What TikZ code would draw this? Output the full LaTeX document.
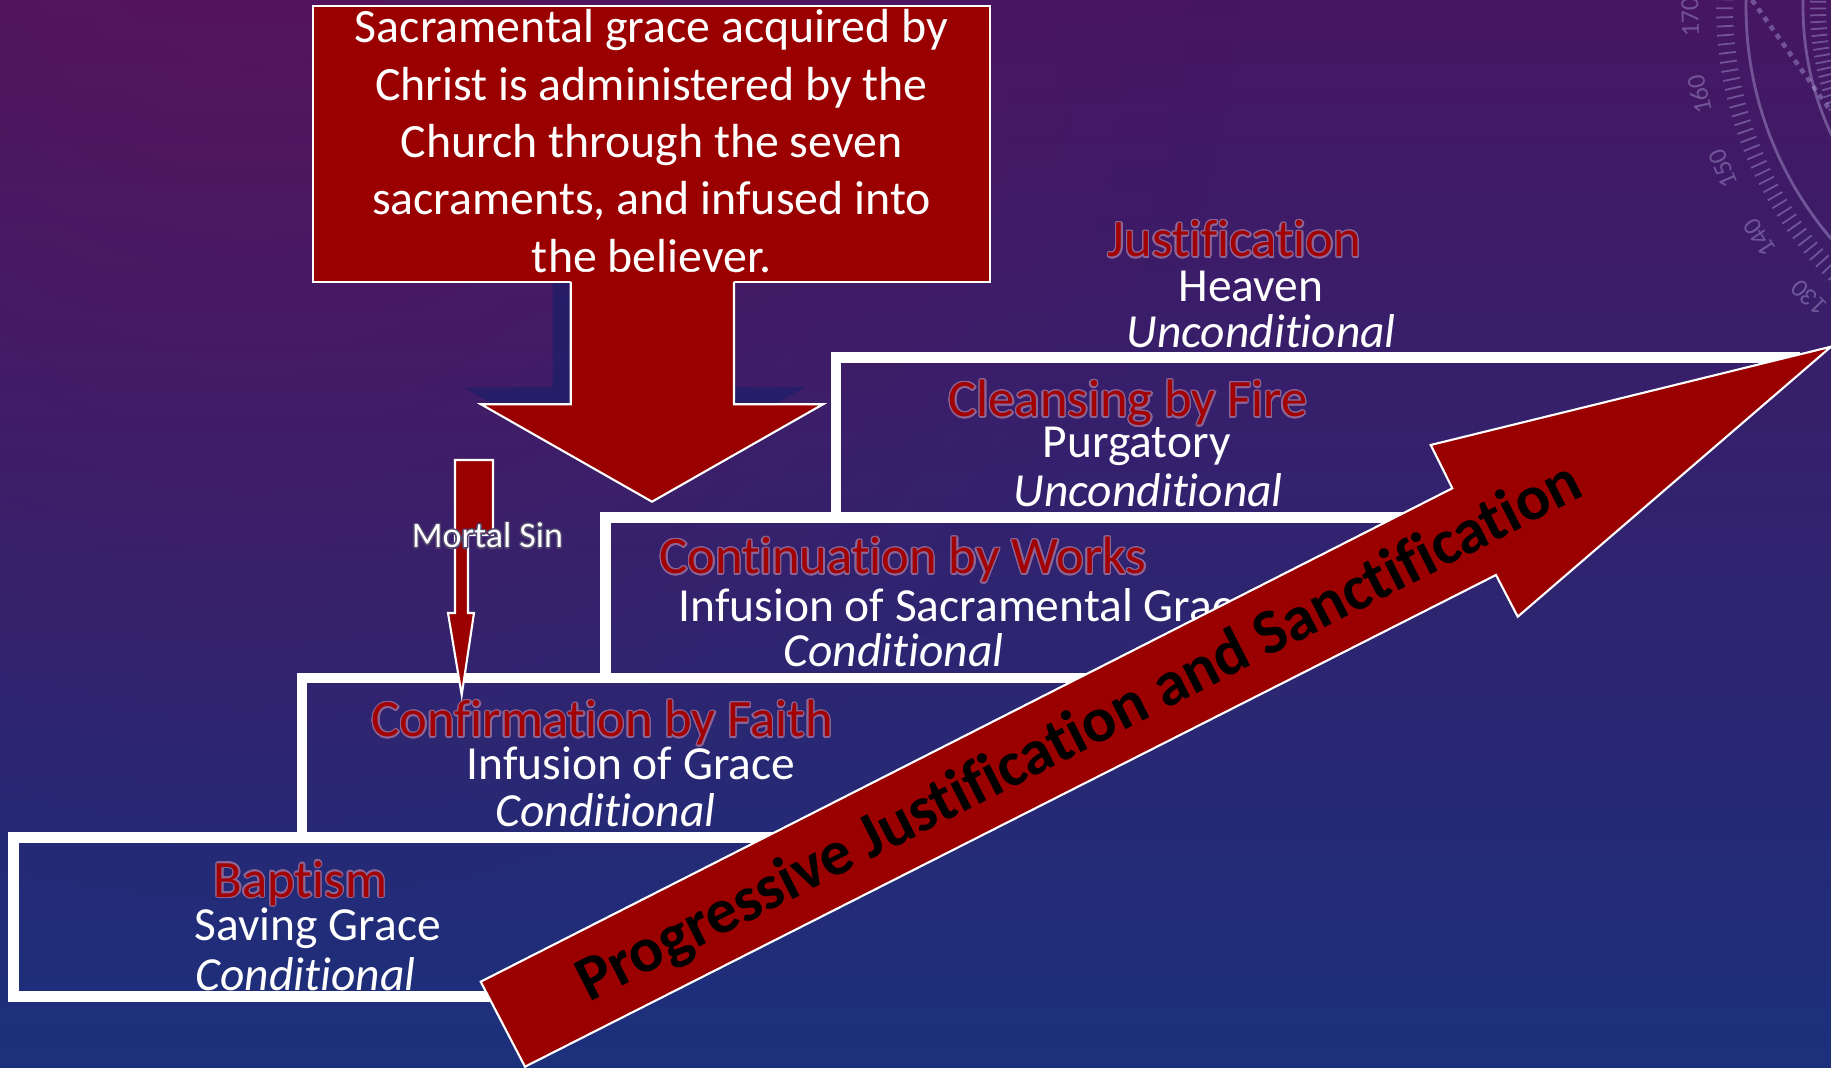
\documentclass[tikz,border=0pt]{standalone}
\usepackage{fontspec}
\setmainfont{Carlito}[Ligatures=NoCommon]
\usepackage{contour}
\usetikzlibrary{fadings}
\definecolor{dred}{RGB}{155,0,0}
\definecolor{tred}{RGB}{162,2,2}
\definecolor{bgtop}{RGB}{70,22,98}
\definecolor{bgmid}{RGB}{46,34,112}
\definecolor{bgbot}{RGB}{28,48,124}
\definecolor{bgpurp}{RGB}{96,20,90}
\definecolor{shadowc}{RGB}{30,30,105}
\definecolor{glowc}{RGB}{140,100,150}
\definecolor{msglow}{RGB}{80,70,110}
\definecolor{dialc}{RGB}{185,175,225}
\tikzfading[name=softspot, inner color=transparent!0, outer color=transparent!100]
\contourlength{0.4pt}
\contournumber{16}
\tikzset{
  headtxt/.style={inner sep=0pt, anchor=base west, text=tred, font=\fontsize{14.94pt}{17pt}\selectfont},
  bodytxt/.style={inner sep=0pt, anchor=base west, text=white, font=\fontsize{13.5pt}{16pt}\selectfont},
  condtxt/.style={inner sep=0pt, anchor=base west, text=white, font=\fontsize{13.5pt}{16pt}\selectfont\itshape},
  boxtxt/.style={inner sep=0pt, anchor=base, text=white, font=\fontsize{13.6pt}{16pt}\selectfont},
  stepline/.style={draw=white, line width=3pt, line join=miter},
  redshape/.style={fill=dred, draw=white, line width=0.6pt, line join=miter},
  dialtxt/.style={inner sep=0pt, text=dialc, font=\fontsize{7.4pt}{8pt}\selectfont},
}
\begin{document}
\begin{tikzpicture}[x=0.01cm,y=-0.01cm]
\useasboundingbox (0,0) rectangle (1831,1068);
% ---------- background ----------
\begin{scope}
  \clip (0,0) rectangle (1831,1068);
  \shade[top color=bgtop, middle color=bgmid, bottom color=bgbot] (0,0) rectangle (1831,1068);
  \fill[bgpurp, opacity=0.6, path fading=softspot] (250,-100) circle [radius=1000];
  % dial decoration
  \begin{scope}[opacity=0.4, draw=dialc, shift={(2104,7)}]
    \draw[line width=0.8pt] (0,0) circle [radius=358];
    \draw[line width=0.8pt] (0,0) circle [radius=301];
    \foreach \a in {115,116.35,...,200}
      \draw[line width=0.5pt] (\a:371) -- (\a:388);
    \foreach \a in {150,151.35,...,210}
      \draw[line width=0.5pt] (\a:278) -- (\a:294);
    \foreach \v in {130,140,150,160,170}{
      \pgfmathsetmacro\ph{178.6-(170-\v)*1.08}
      \node[dialtxt, rotate=270-\ph] (dial\v) at (\ph:414) {\v};
    }
  \end{scope}
  \draw[dialc, opacity=0.4, line width=1.3pt, dash pattern=on 1.5pt off 1.5pt] (1752,0) -- (1830,110);
\end{scope}
% ---------- step texts ----------
\node[headtxt] (hjus) at (1107,257) {\contour{glowc}{Justification}};
\node[bodytxt] (bheav) at (1178,302) {Heaven};
\node[condtxt] (cjus) at (1126,348) {Unconditional};

\node[headtxt] (hcle) at (948,417) {\contour{glowc}{Cleansing by Fire}};
\node[bodytxt] (bpur) at (1042,458) {Purgatory};
\node[condtxt] (ccle) at (1013,507) {Unconditional};

\node[headtxt] (hcon) at (659,574) {\contour{glowc}{Continuation by Works}};
\node[bodytxt] (bcon) at (678,622) {Infusion of Sacramental Grace};
\node[condtxt] (ccon) at (783,667) {Conditional};

\node[headtxt] (hcnf) at (371,737) {\contour{glowc}{Confirmation by Faith}};
\node[bodytxt] (bcnf) at (466,780) {Infusion of Grace};
\node[condtxt] (ccnf) at (495,827) {Conditional};

\node[headtxt] (hbap) at (213,897) {\contour{glowc}{Baptism}};
\node[bodytxt] (bbap) at (194,941) {Saving Grace};
\node[condtxt] (cbap) at (195,991) {Conditional};
% ---------- stairs ----------
\draw[stepline] (557,996.5) -- (13.5,996.5) -- (13.5,837.5) -- (871,837.5);
\draw[stepline] (302,837.5) -- (302,678) -- (1186,678);
\draw[stepline] (605.5,678) -- (605.5,517.5) -- (1502,517.5);
\draw[stepline] (836,517.5) -- (836,357.5) -- (1800,357.5);
% ---------- top box and big arrow ----------
\fill[shadowc, opacity=0.75] (552.7,258) -- (552.7,387.3) -- (463,387.3) -- (634,484.7) -- (805,387.3) -- (716,387.3) -- (716,258) -- cycle;
\node[redshape, minimum width=6.77cm, minimum height=2.76cm, inner sep=0pt] (gracebox) at (651.5,144) {};
\node[boxtxt] (g1) at (651.5,43) {Sacramental grace acquired by};
\node[boxtxt] (g2) at (651.5,100.3) {Christ is administered by the};
\node[boxtxt] (g3) at (651.5,157.6) {Church through the seven};
\node[boxtxt] (g4) at (651.5,214.9) {sacraments, and infused into};
\node[boxtxt] (g5) at (651.5,272.2) {the believer.};
\fill[dred] (570.7,272) -- (570.7,404.3) -- (481,404.3) -- (652,501.7) -- (823,404.3) -- (734,404.3) -- (734,272) -- cycle;
\draw[white, line width=0.6pt, line join=miter] (570.7,282) -- (570.7,404.3) -- (481,404.3) -- (652,501.7) -- (823,404.3) -- (734,404.3) -- (734,282);
% ---------- mortal sin arrow ----------
\filldraw[redshape] (455,460) -- (493,460) -- (493,535) -- (468,535) -- (468,613) -- (474,613) -- (461.7,695) -- (448,613) -- (455,613) -- cycle;
\node[inner sep=0pt, anchor=base, text=white, font=\fontsize{10.24pt}{12pt}\selectfont] (msin) at (487.5,548) {\contour{msglow}{Mortal Sin}};
% ---------- progress arrow ----------
\filldraw[redshape] (480.7,981.7) -- (1452.3,488.3) -- (1430.7,445) -- (1831,346.7) -- (1517.7,616.7) -- (1496,575) -- (525,1066.7) -- cycle;
\node[inner sep=0pt, rotate=27, text=black, font=\fontsize{18.07pt}{20pt}\selectfont\bfseries] (prog) at (1080,734) {Progressive Justification and Sanctification};
\end{tikzpicture}
\end{document}
